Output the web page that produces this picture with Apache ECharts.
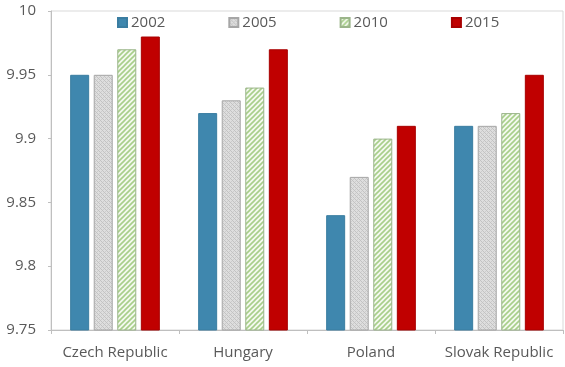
<!DOCTYPE html>
<html>
<head>
<meta charset="utf-8">
<script src="https://cdn.jsdelivr.net/npm/echarts@6/dist/echarts.min.js"></script>
<style>
html,body{margin:0;padding:0;background:#fff;}
#chart{width:565px;height:367px;}
</style>
</head>
<body>
<div id="chart"></div>
<script>
var categories = ['Czech Republic', 'Hungary', 'Poland', 'Slovak Republic'];
var seriesNames = ['2002', '2005', '2010', '2015'];
var values2002 = [9.95, 9.92, 9.84, 9.91];
var values2005 = [9.95, 9.93, 9.87, 9.91];
var values2010 = [9.97, 9.94, 9.90, 9.92];
var values2015 = [9.98, 9.97, 9.91, 9.95];
var yTicks = [9.75, 9.8, 9.85, 9.9, 9.95, 10];

function makeGray() {
  var c = document.createElement('canvas');
  c.width = 4; c.height = 4;
  var g = c.getContext('2d');
  g.fillStyle = '#dedede'; g.fillRect(0, 0, 4, 4);
  g.fillStyle = '#c2c2c2';
  g.fillRect(0, 0, 1, 1); g.fillRect(2, 2, 1, 1);
  g.fillRect(1, 1, 1, 1); g.fillRect(3, 3, 1, 1);
  g.fillStyle = '#cccccc';
  g.fillRect(3, 1, 1, 1); g.fillRect(1, 3, 1, 1);
  return c;
}
function makeGreen() {
  var s = 5;
  var c = document.createElement('canvas');
  c.width = s; c.height = s;
  var g = c.getContext('2d');
  g.fillStyle = '#f4f9ef'; g.fillRect(0, 0, s, s);
  g.strokeStyle = '#a8cf8a'; g.lineWidth = 1.6;
  g.beginPath();
  g.moveTo(-1, s + 1); g.lineTo(s + 1, -1);
  g.moveTo(-1, 1); g.lineTo(1, -1);
  g.moveTo(s - 1, s + 1); g.lineTo(s + 1, s - 1);
  g.stroke();
  return c;
}

var grayPat = { image: makeGray(), repeat: 'repeat' };
var greenPat = { image: makeGreen(), repeat: 'repeat' };

var styles = [
  { color: '#3f87ae', borderColor: '#3a7da1' },
  { color: grayPat, borderColor: '#a6a6a6' },
  { color: greenPat, borderColor: '#9bb58a' },
  { color: '#c00000', borderColor: '#a80000' }
];
var dataSets = [values2002, values2005, values2010, values2015];

var font = '"Open Sans", "Noto Sans", sans-serif';

var series = seriesNames.map(function (n, i) {
  return {
    name: n,
    type: 'bar',
    data: dataSets[i],
    barWidth: 19,
    barGap: '24%',
    itemStyle: { color: styles[i].color, borderColor: styles[i].borderColor, borderWidth: 1 }
  };
});

var chart = echarts.init(document.getElementById('chart'));
chart.setOption({
  animation: false,
  backgroundColor: '#fff',
  textStyle: { fontFamily: font },
  legend: {
    top: 15,
    left: 117,
    padding: 0,
    itemWidth: 9,
    itemHeight: 9,
    itemGap: 63,
    icon: 'rect',
    textStyle: { color: '#595959', fontSize: 15, fontFamily: font, padding: [0, 0, 0, -1] },
    data: seriesNames
  },
  grid: {
    left: 51,
    top: 11,
    width: 512,
    height: 319,
    show: true,
    borderColor: '#d9d9d9',
    borderWidth: 1
  },
  xAxis: {
    type: 'category',
    data: categories,
    axisLine: { lineStyle: { color: '#bfbfbf' } },
    axisTick: { show: true, length: 4, lineStyle: { color: '#bfbfbf' } },
    axisLabel: { color: '#595959', fontSize: 15, margin: 15, fontFamily: font, interval: 0, hideOverlap: false },
    splitLine: { show: false }
  },
  yAxis: {
    type: 'value',
    min: 9.75,
    max: 10,
    interval: 0.05,
    axisLine: { show: true, lineStyle: { color: '#bfbfbf' } },
    axisTick: { show: true, length: 3, lineStyle: { color: '#bfbfbf' } },
    axisLabel: {
      color: '#595959', fontSize: 15, margin: 15, fontFamily: font,
      formatter: function (v) {
        var best = yTicks.reduce(function (a, b) { return Math.abs(b - v) < Math.abs(a - v) ? b : a; });
        return String(best);
      }
    },
    splitLine: { show: false }
  },
  series: series
});
</script>
</body>
</html>
